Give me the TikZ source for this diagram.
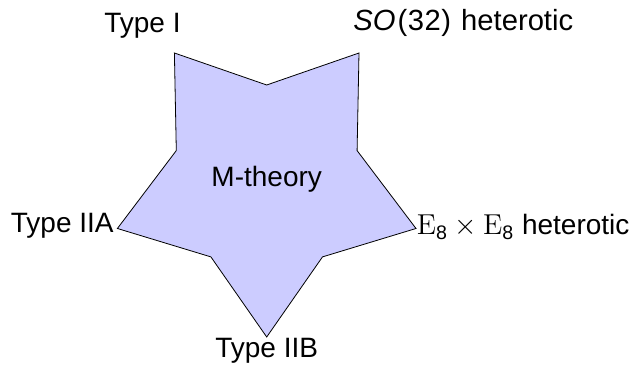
\documentclass[tikz,border=0pt]{standalone}
\usepackage{amsmath}
\usepackage[no-math]{fontspec}
\setmainfont{Liberation Sans}
\begin{document}
\begin{tikzpicture}[x=0.5pt,y=-0.5pt,
  lbl/.style={inner sep=0pt,font=\fontsize{14}{17}\selectfont},
  starfill/.style={draw=black,line width=0.4pt,fill=blue!20,line join=miter}]
\useasboundingbox (0,0) rectangle (639,368);
% outer points
\coordinate (pB) at (266.7,337.0);
\coordinate (pR) at (416.0,228.5);
\coordinate (pTR) at (359.0,53.0);
\coordinate (pTL) at (174.4,53.0);
\coordinate (pL) at (117.4,228.5);
% inner points
\coordinate (iT) at (266.7,85.0);
\coordinate (iR) at (357.1,150.6);
\coordinate (iBR) at (322.5,256.9);
\coordinate (iBL) at (210.9,256.9);
\coordinate (iL) at (176.3,150.6);
\draw[starfill] (pTL) -- (iT) -- (pTR) -- (iR) -- (pR) -- (iBR) -- (pB) -- (iBL) -- (pL) -- (iL) -- cycle;
\node[lbl,anchor=base] (m) at (266.7,186.7) {M-theory};
\node[lbl,anchor=base east] (t1) at (181,32.3) {Type I};
\node[lbl,anchor=base west,font=\fontsize{14.6}{17}\selectfont] (so) at (353,31) {\textit{SO}\kern1pt(\kern0.3pt 3\kern0.2pt 2\kern0.3pt)\kern1pt\ heterotic};
\node[lbl,anchor=base west] (e8) at (416.5,235) {$\mathrm{E}_{\text{8}}\times\mathrm{E}_{\text{8}}$ heterotic};
\node[lbl,anchor=base east] (t2a) at (114,233) {Type IIA};
\node[lbl,anchor=base] (t2b) at (266.7,358) {Type IIB};
\end{tikzpicture}
\end{document}
